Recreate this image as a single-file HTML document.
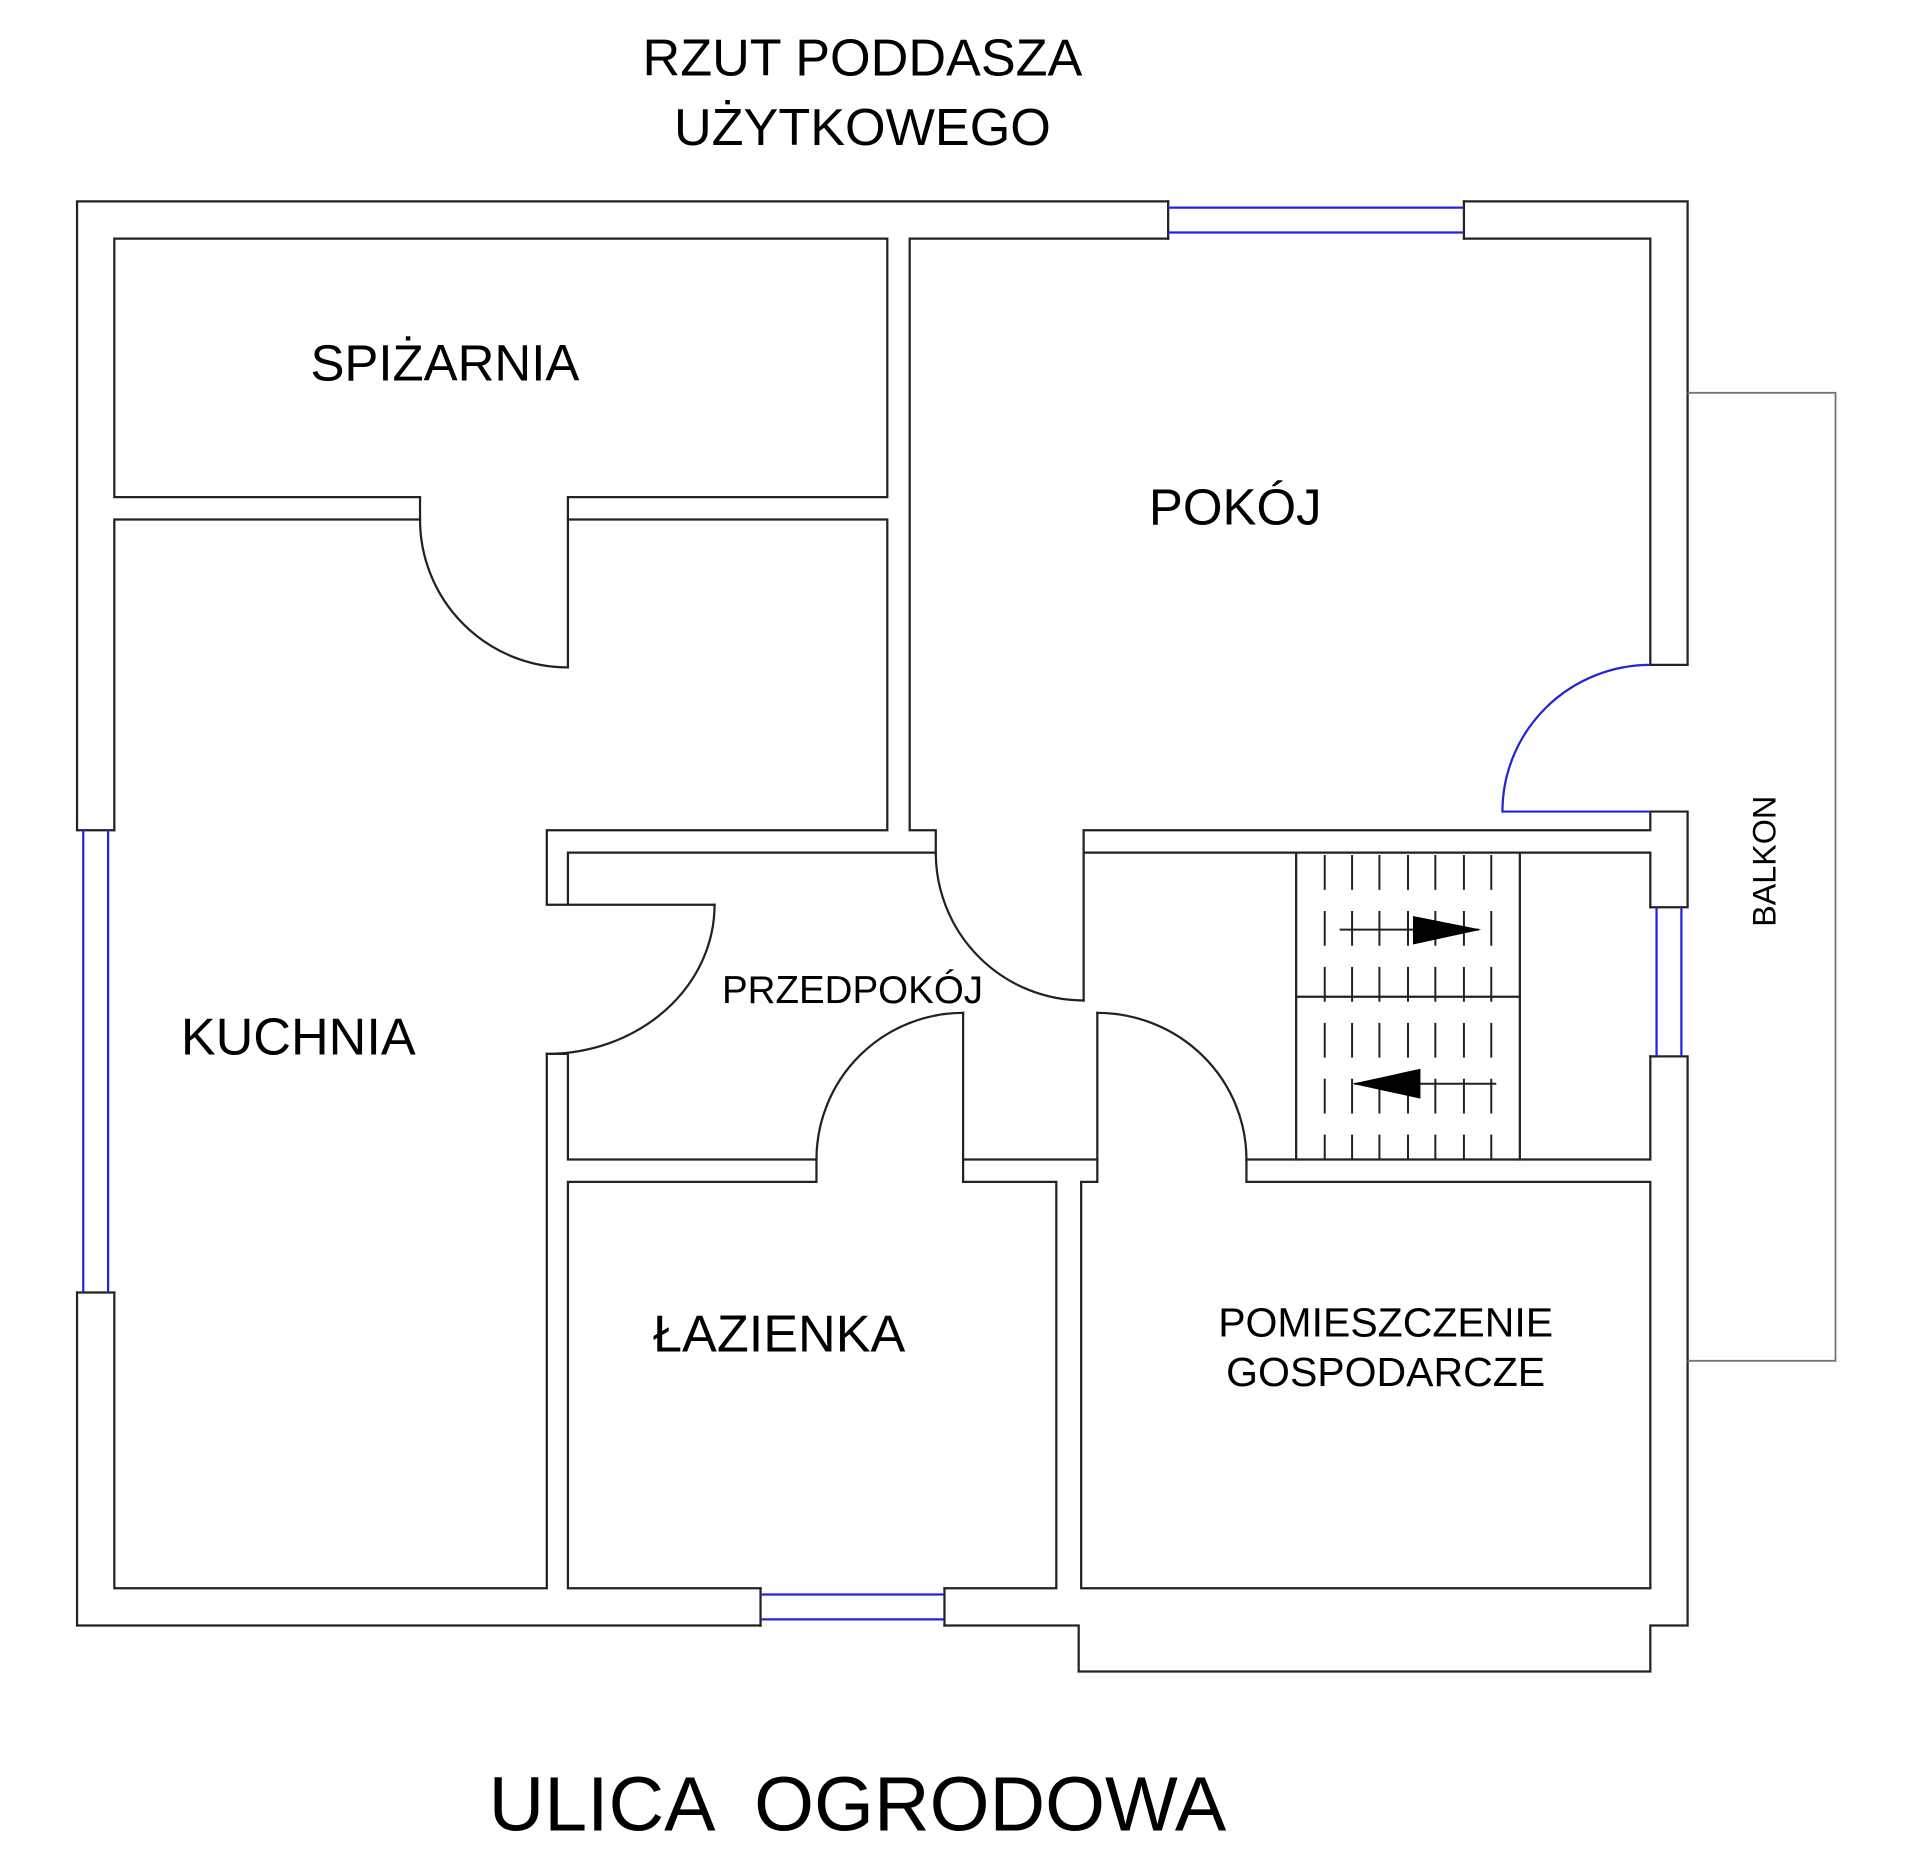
<!DOCTYPE html>
<html><head><meta charset="utf-8"><style>
html,body{margin:0;padding:0;background:#fff;}
svg{display:block;}
text{font-family:"Liberation Sans",Arial,sans-serif;fill:#000;text-anchor:middle;dominant-baseline:central;}
</style></head><body>
<svg width="1920" height="1858" viewBox="0 0 1545 1495" xmlns="http://www.w3.org/2000/svg">
<g fill="none" stroke="#222" stroke-width="1.8" stroke-linecap="square">
<polyline points="940,162 62,162 62,668 92,668"/>
<polyline points="1178,162 1358,162 1358,535 1328,535"/>
<polyline points="62,1040 62,1308 612,1308"/>
<polyline points="760,1308 868,1308 868,1345 1328,1345 1328,1308 1358,1308 1358,850 1328,850"/>
<polyline points="1328,653 1358,653 1358,730 1328,730"/>
<line x1="940" y1="162" x2="940" y2="192"/><line x1="1178" y1="162" x2="1178" y2="192"/>
<line x1="612" y1="1278" x2="612" y2="1308"/><line x1="760" y1="1278" x2="760" y2="1308"/>
<line x1="62" y1="1040" x2="92" y2="1040"/>
<polyline points="92,1040 92,1278 440,1278 440,848"/>
<polyline points="92,668 92,418 338,418 338,400 92,400 92,192 714,192 714,400 457,400 457,537"/>
<polyline points="457,418 714,418 714,668 440,668 440,728 575,728"/>
<polyline points="457,728 457,686 753,686 753,668 732,668 732,192 940,192"/>
<polyline points="1178,192 1328,192 1328,535"/>
<polyline points="440,848 457,848 457,933 657,933 657,951 457,951 457,1278 612,1278"/>
<polyline points="760,1278 850,1278 850,951 775,951 775,815"/>
<polyline points="775,933 883,933 883,815"/>
<polyline points="883,933 883,951 870,951 870,1278 1328,1278 1328,951 1003,951 1003,933 1328,933 1328,850"/>
<polyline points="872,805 872,668 1328,668 1328,653"/>
<polyline points="872,686 1328,686 1328,730"/>
<path d="M338,418 A119,119 0 0 0 457,537"/>
<path d="M575,728 A135,120 0 0 1 440,848"/>
<path d="M753,686 A119,119 0 0 0 872,805"/>
<path d="M657,933 A118,118 0 0 1 775,815"/>
<path d="M883,815 A120,118 0 0 1 1003,933"/>
<line x1="1043" y1="686" x2="1043" y2="933"/><line x1="1223" y1="686" x2="1223" y2="933"/>
<line x1="1043" y1="802" x2="1223" y2="802"/>
</g>
<g stroke="#222" stroke-width="1.6" stroke-dasharray="28 17">
<line x1="1066" y1="688" x2="1066" y2="933"/><line x1="1088" y1="688" x2="1088" y2="933"/>
<line x1="1110" y1="688" x2="1110" y2="933"/><line x1="1133" y1="688" x2="1133" y2="933"/>
<line x1="1155" y1="688" x2="1155" y2="933"/><line x1="1178" y1="688" x2="1178" y2="933"/>
<line x1="1200" y1="688" x2="1200" y2="933"/>
</g>
<g stroke="#222" stroke-width="1.6">
<line x1="1078" y1="748" x2="1190" y2="748"/>
<line x1="1090" y1="872" x2="1204" y2="872"/>
</g>
<polygon points="1137,737 1192,748 1137,760" fill="#000"/>
<polygon points="1143,860 1088,872 1143,884" fill="#000"/>
<g fill="none" stroke="#2323d8" stroke-width="1.8">
<line x1="940" y1="167" x2="1178" y2="167"/><line x1="940" y1="187" x2="1178" y2="187"/>
<line x1="67" y1="668" x2="67" y2="1040"/><line x1="87" y1="668" x2="87" y2="1040"/>
<line x1="612" y1="1283" x2="760" y2="1283"/><line x1="612" y1="1303" x2="760" y2="1303"/>
<line x1="1333" y1="730" x2="1333" y2="850"/><line x1="1353" y1="730" x2="1353" y2="850"/>
<path d="M1328,535 A119,118 0 0 0 1209,653 L1328,653"/>
</g>
<polyline points="1358,316 1477,316 1477,1095 1358,1095" fill="none" stroke="#777" stroke-width="1.5"/>
<text x="694" y="47" font-size="42">RZUT PODDASZA</text>
<text x="694" y="103" font-size="42">UŻYTKOWEGO</text>
<text x="358" y="292" font-size="41">SPIŻARNIA</text>
<text x="994" y="408" font-size="41">POKÓJ</text>
<text x="240" y="835" font-size="42">KUCHNIA</text>
<text x="686" y="797" font-size="31">PRZEDPOKÓJ</text>
<text x="627" y="1074" font-size="42">ŁAZIENKA</text>
<text x="1115" y="1064" font-size="33">POMIESZCZENIE</text>
<text x="1115" y="1104" font-size="33">GOSPODARCZE</text>
<text x="1420" y="693" font-size="26" transform="rotate(-90 1420 693)">BALKON</text>
<text x="690" y="1452" font-size="62" xml:space="preserve" style="white-space:pre">ULICA  OGRODOWA</text>
</svg>
</body></html>
